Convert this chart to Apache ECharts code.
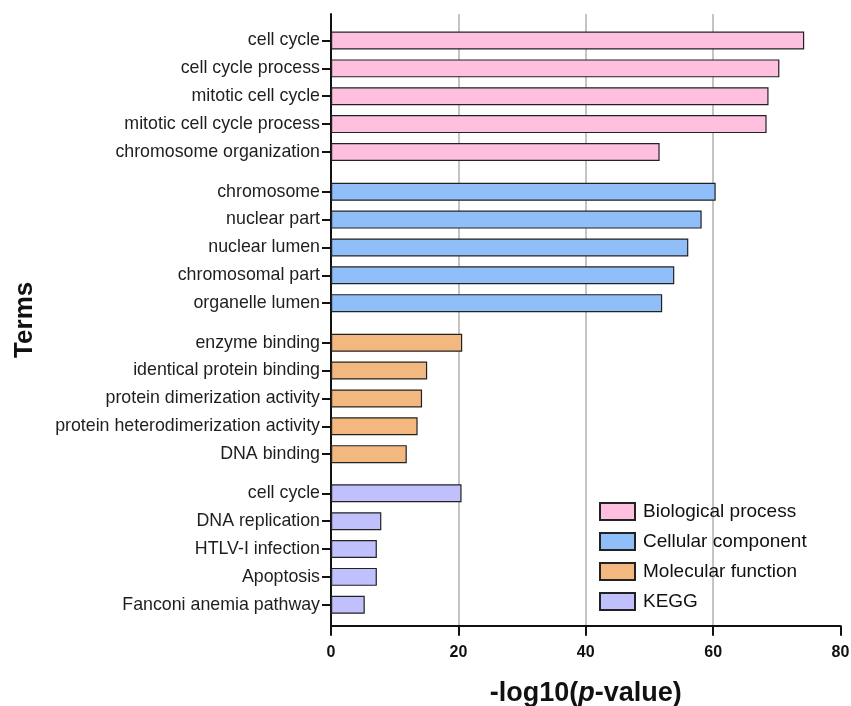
<!DOCTYPE html>
<html>
<head>
<meta charset="utf-8">
<script src="https://cdn.jsdelivr.net/npm/echarts@6/dist/echarts.min.js"></script>
<style>
  html, body { margin: 0; padding: 0; background: #fff; }
  #chart { width: 851px; height: 706px; }
</style>
</head>
<body>
<div id="chart"></div>
<script>
const groupNames = ['Biological process', 'Cellular component', 'Molecular function', 'KEGG'];

const bpTerms = ['cell cycle', 'cell cycle process', 'mitotic cell cycle', 'mitotic cell cycle process', 'chromosome organization'];
const bpValues = [74.3, 70.4, 68.7, 68.4, 51.6];

const ccTerms = ['chromosome', 'nuclear part', 'nuclear lumen', 'chromosomal part', 'organelle lumen'];
const ccValues = [60.4, 58.2, 56.1, 53.9, 52.0];

const mfTerms = ['enzyme binding', 'identical protein binding', 'protein dimerization activity', 'protein heterodimerization activity', 'DNA binding'];
const mfValues = [20.6, 15.1, 14.3, 13.6, 11.9];

const keggTerms = ['cell cycle', 'DNA replication', 'HTLV-I infection', 'Apoptosis', 'Fanconi anemia pathway'];
const keggValues = [20.5, 7.9, 7.2, 7.2, 5.3];

const xTicks = [0, 20, 40, 60, 80];

const terms = [bpTerms, ccTerms, mfTerms, keggTerms];
const values = [bpValues, ccValues, mfValues, keggValues];
const fills = ['#ffc0df', '#90bef8', '#f2b880', '#c0c0fc'];

const FONT = '"Liberation Sans", Arial, sans-serif';
const plotLeft = 331;
const plotRight = 10.5;
const bandH = 27.85;
const groupTops = [26.6, 177.8, 328.8, 479.4];

const chart = echarts.init(document.getElementById('chart'));

// grid 0 only draws the frame: x axis, gridlines, y axis line and titles
const grids = [{ left: plotLeft, right: plotRight, top: 14, bottom: 80.3, outerBoundsMode: 'none', containLabel: false }];
const xAxes = [{
  gridIndex: 0,
  type: 'value',
  min: xTicks[0],
  max: xTicks[xTicks.length - 1],
  interval: xTicks[1] - xTicks[0],
  axisLine: { show: true, lineStyle: { color: '#111', width: 2 } },
  axisTick: { show: true, length: 10, lineStyle: { color: '#111', width: 2 } },
  axisLabel: { fontFamily: FONT, fontSize: 16, fontWeight: 'bold', color: '#111', margin: 19 },
  splitLine: {
    show: true,
    lineStyle: { color: ['transparent', '#c4c4c4', '#c4c4c4', '#c4c4c4', 'transparent'], width: 2 }
  },
  name: '-log10({i|p}-value)',
  nameLocation: 'middle',
  nameGap: 54,
  nameTextStyle: {
    fontFamily: FONT, fontSize: 27, fontWeight: 'bold', color: '#111',
    rich: { i: { fontFamily: FONT, fontSize: 27, fontWeight: 'bold', fontStyle: 'italic', color: '#111' } }
  }
}];
const yAxes = [{
  gridIndex: 0,
  type: 'value',
  min: 0,
  max: 1,
  axisLine: { show: true, lineStyle: { color: '#111', width: 2 } },
  axisTick: { show: false },
  axisLabel: { show: false },
  splitLine: { show: false },
  name: 'Terms',
  nameLocation: 'middle',
  nameRotate: 90,
  nameGap: 293,
  nameTextStyle: { fontFamily: FONT, fontSize: 26, fontWeight: 'bold', color: '#111' }
}];

const series = [];
terms.forEach((list, i) => {
  const g = i + 1;
  grids.push({
    left: plotLeft, right: plotRight, top: groupTops[i], height: bandH * list.length,
    outerBoundsMode: 'none', containLabel: false
  });
  xAxes.push({ gridIndex: g, type: 'value', min: 0, max: 80, show: false });
  yAxes.push({
    gridIndex: g,
    type: 'category',
    inverse: true,
    data: list,
    axisLine: { show: false },
    axisTick: { show: true, alignWithLabel: true, length: 9, lineStyle: { color: '#111', width: 2 } },
    axisLabel: { fontFamily: FONT, fontSize: 17.8, color: '#1e1e1e', margin: 11 },
    splitLine: { show: false }
  });
  series.push({
    name: groupNames[i],
    type: 'bar',
    xAxisIndex: g,
    yAxisIndex: g,
    data: values[i],
    barWidth: 18,
    itemStyle: { color: fills[i], borderColor: '#222', borderWidth: 1.2 },
    silent: true
  });
});

chart.setOption({
  animation: false,
  backgroundColor: '#fff',
  grid: grids,
  xAxis: xAxes,
  yAxis: yAxes,
  legend: {
    orient: 'vertical',
    left: 594,
    top: 497,
    icon: 'rect',
    itemWidth: 35,
    itemHeight: 17,
    itemGap: 11,
    data: groupNames,
    textStyle: { fontFamily: FONT, fontSize: 19, color: '#111', padding: [0, 0, 0, 3] }
  },
  series: series
});
</script>
</body>
</html>
